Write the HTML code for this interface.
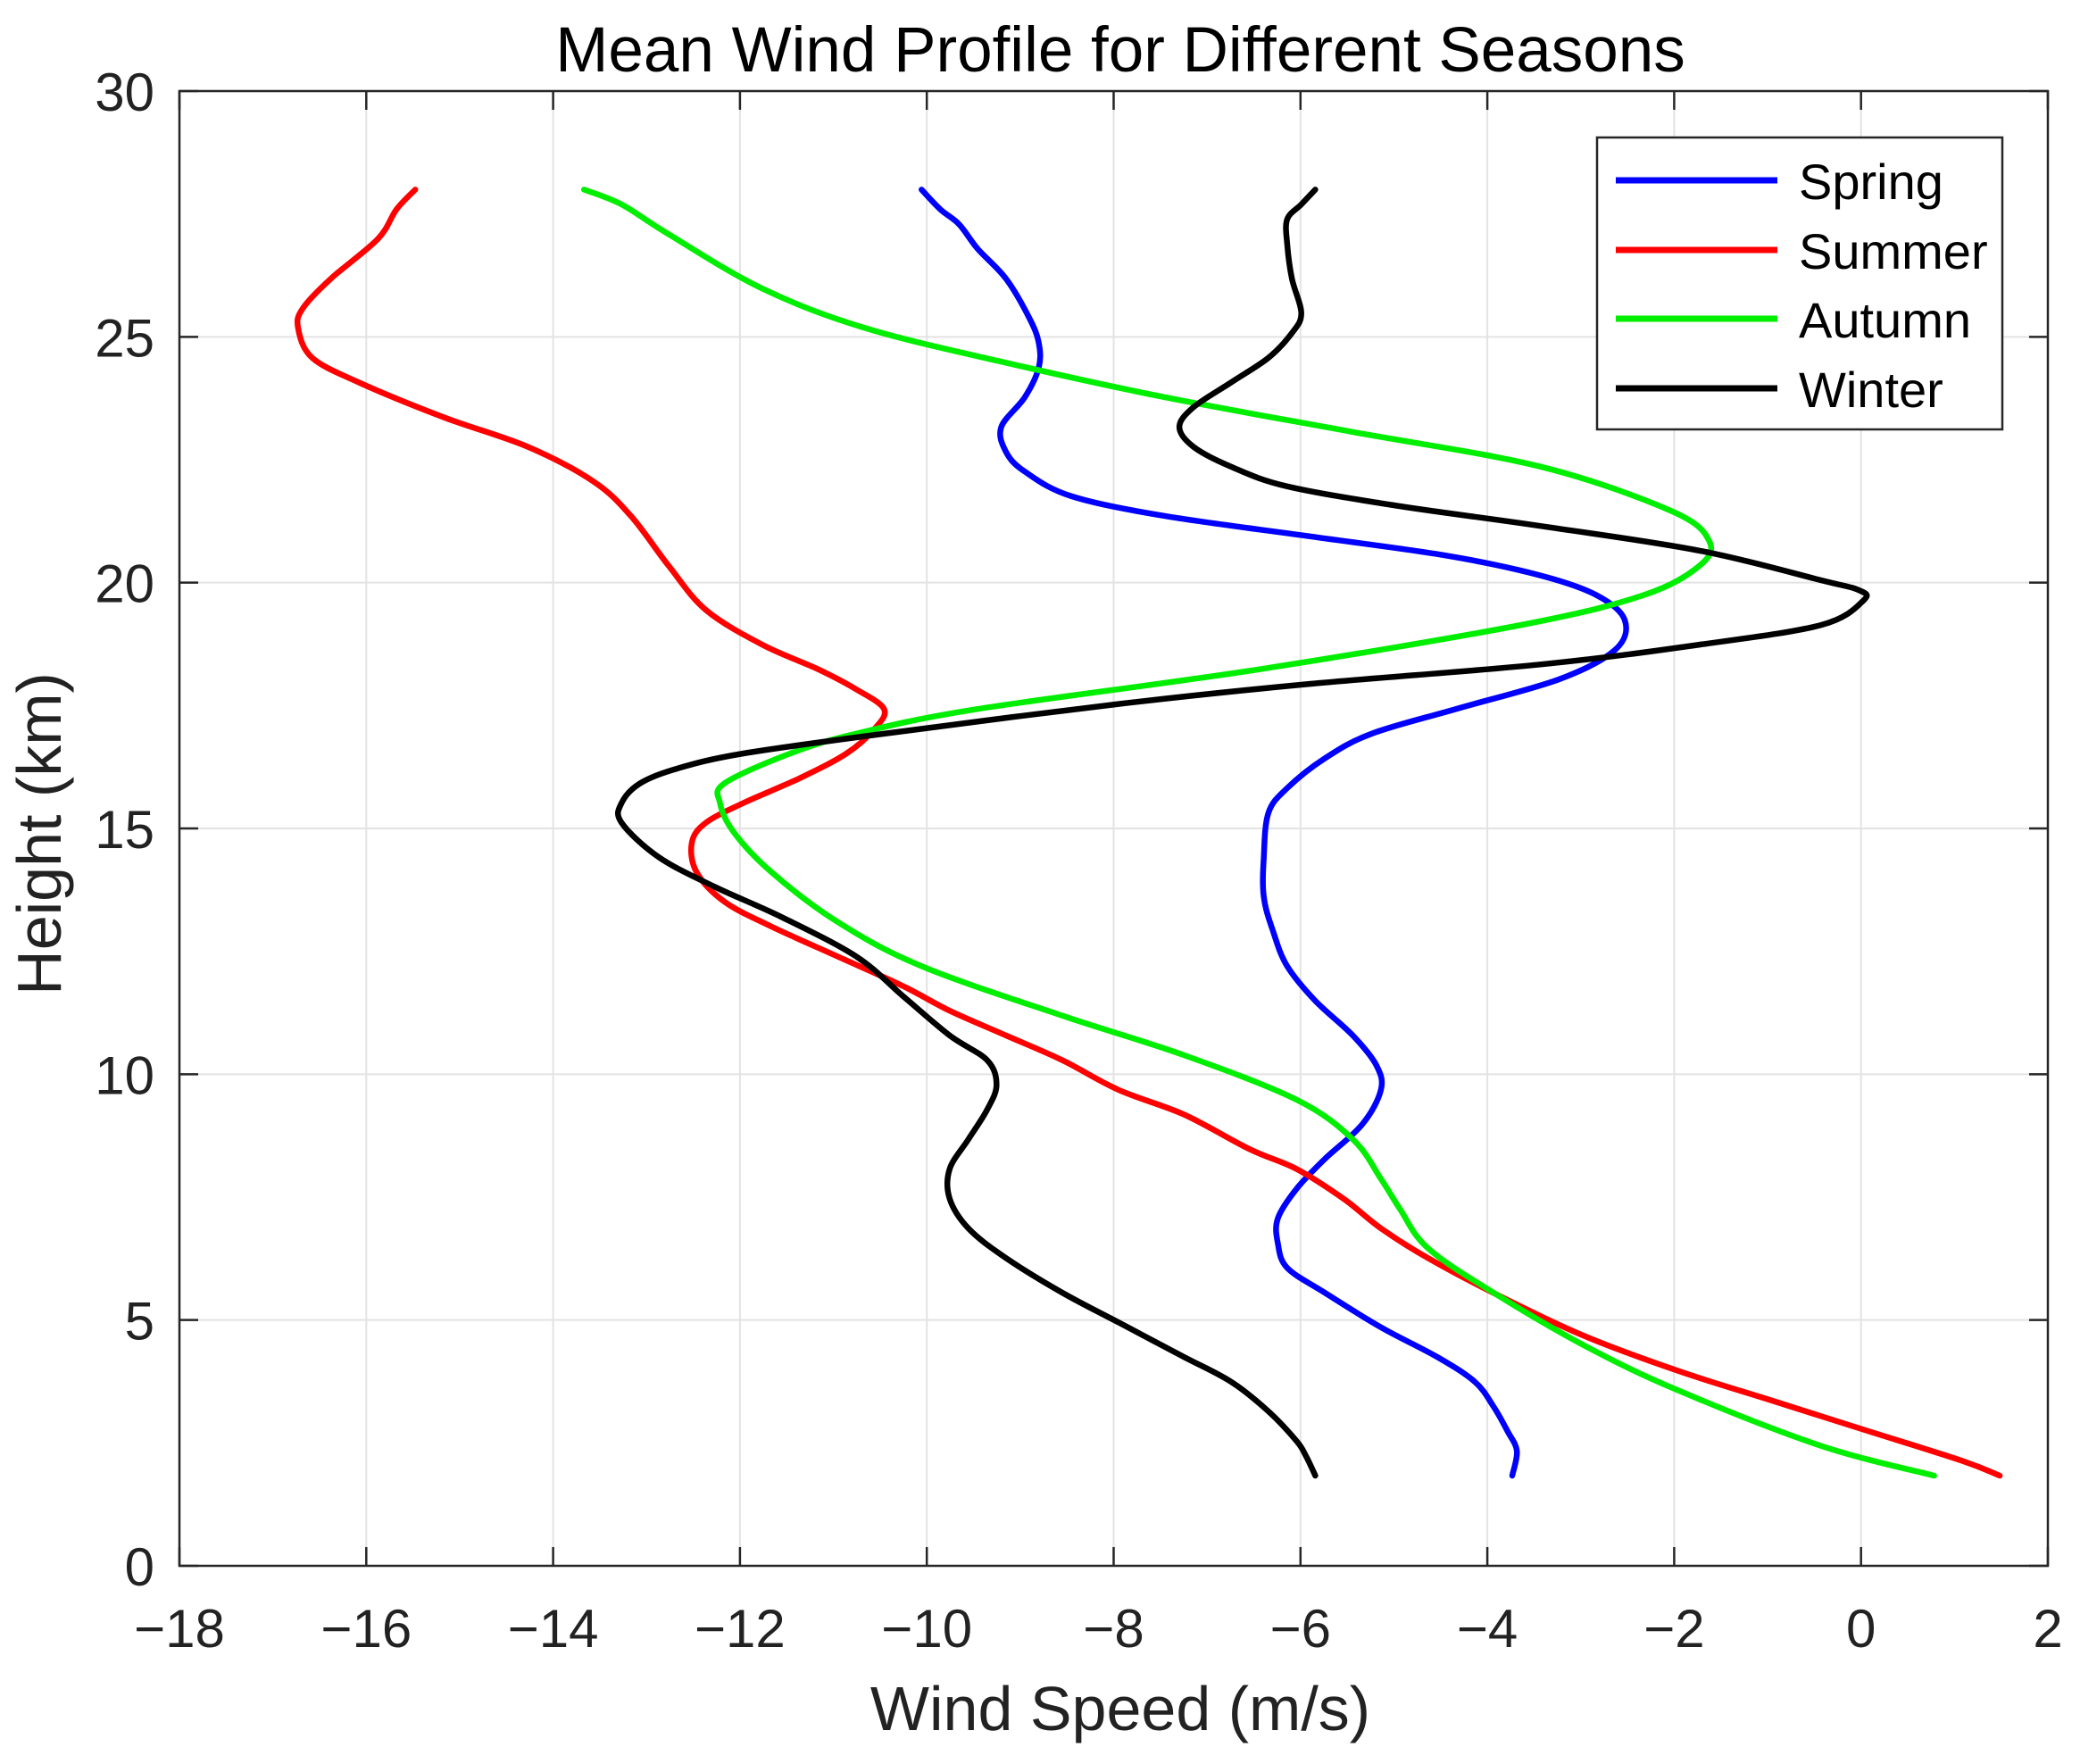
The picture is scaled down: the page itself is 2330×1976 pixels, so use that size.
<!DOCTYPE html>
<html><head><meta charset="utf-8"><style>html,body{margin:0;padding:0;background:#fff}svg{display:block}</style></head>
<body>
<svg id="s" width="2330" height="1976" viewBox="0 0 2330 1976" xmlns="http://www.w3.org/2000/svg" font-family="Liberation Sans, Arial, sans-serif">
<rect width="2330" height="1976" fill="#fff"/>
<g id="grid"></g>
<g id="series" fill="none" stroke-width="6.5" stroke-linejoin="round" stroke-linecap="round"></g>
<rect x="201" y="102" width="2093" height="1652" fill="none" stroke="#262626" stroke-width="2.5"/>
<g id="ticks"></g>
<text x="1255" y="80" font-size="71" text-anchor="middle" fill="#000">Mean Wind Profile for Different Seasons</text>
<text x="1255" y="1938" font-size="70" text-anchor="middle" fill="#222">Wind Speed (m/s)</text>
<text transform="translate(68,934) rotate(-90)" font-size="70" text-anchor="middle" fill="#222">Height (km)</text>
<rect x="1789" y="154" width="454" height="327" fill="#fff" stroke="#262626" stroke-width="2.5"/>
<line x1="1810" y1="202" x2="1991" y2="202" stroke="#0000ff" stroke-width="7"/>
<line x1="1810" y1="280" x2="1991" y2="280" stroke="#ff0000" stroke-width="7"/>
<line x1="1810" y1="357" x2="1991" y2="357" stroke="#00ee00" stroke-width="7"/>
<line x1="1810" y1="435" x2="1991" y2="435" stroke="#000" stroke-width="7"/>
<text x="2015" y="223" font-size="56" fill="#000">Spring</text>
<text x="2015" y="301" font-size="56" fill="#000">Summer</text>
<text x="2015" y="378" font-size="56" fill="#000">Autumn</text>
<text x="2015" y="456" font-size="56" fill="#000">Winter</text>
</svg>
<script>
var NS="http://www.w3.org/2000/svg";
var L=201,R=2294,T=102,B=1754;
function X(w){return L+(w+18)*(R-L)/20}
function Y(h){return B-h*(B-T)/30}
function el(p,t,a,txt){var e=document.createElementNS(NS,t);for(var k in a)e.setAttribute(k,a[k]);if(txt!=null)e.textContent=txt;document.getElementById(p).appendChild(e);}
for(var w=-16;w<=0;w+=2)el("grid","line",{x1:X(w),x2:X(w),y1:T,y2:B,stroke:"#e3e3e3","stroke-width":2});
for(var h=5;h<=25;h+=5)el("grid","line",{x1:L,x2:R,y1:Y(h),y2:Y(h),stroke:"#e3e3e3","stroke-width":2});
for(var w=-18;w<=2;w+=2){var x=X(w);el("ticks","line",{x1:x,x2:x,y1:B,y2:B-21,stroke:"#262626","stroke-width":2.5});el("ticks","line",{x1:x,x2:x,y1:T,y2:T+21,stroke:"#262626","stroke-width":2.5});
el("ticks","text",{x:x,y:1845,"font-size":60,"text-anchor":"middle",fill:"#222"},(w<0?"\u2212"+(-w):""+w));}
for(var h=0;h<=30;h+=5){var y=Y(h);el("ticks","line",{x1:L,x2:L+21,y1:y,y2:y,stroke:"#262626","stroke-width":2.5});el("ticks","line",{x1:R,x2:R-21,y1:y,y2:y,stroke:"#262626","stroke-width":2.5});
el("ticks","text",{x:173,y:y+22,"font-size":60,"text-anchor":"end",fill:"#222"},""+h);}
function fw(w){return (1.1+70.35*(w+18))/70.1-18}
function fh(h){return 1.00624*h-0.179}
var D={
"#0000ff":[[-3.8,2],[-3.75,2.5],[-3.85,2.9],[-4.0,3.4],[-4.2,3.9],[-4.6,4.4],[-5.2,5],[-5.8,5.7],[-6.2,6.2],[-6.3,6.7],[-6.3,7.2],[-6.1,7.8],[-5.8,8.4],[-5.4,9.1],[-5.2,9.8],[-5.25,10.3],[-5.5,10.9],[-5.9,11.6],[-6.2,12.3],[-6.35,13],[-6.45,13.7],[-6.45,14.5],[-6.4,15.4],[-6.2,15.9],[-5.8,16.5],[-5.3,17],[-4.4,17.5],[-3.3,18.1],[-2.7,18.7],[-2.6,19.3],[-2.9,19.8],[-3.5,20.2],[-4.5,20.6],[-6.0,21],[-7.5,21.4],[-8.5,21.8],[-9.0,22.3],[-9.2,22.7],[-9.25,23.2],[-9.0,23.8],[-8.85,24.4],[-8.85,24.9],[-8.95,25.4],[-9.2,26.2],[-9.5,26.8],[-9.7,27.3],[-9.9,27.6],[-10.1,28]],
"#ff0000":[[1.4,2],[1.0,2.3],[0,2.9],[-1,3.5],[-2,4.1],[-3,4.8],[-3.9,5.6],[-4.7,6.4],[-5.2,7.0],[-5.6,7.6],[-6.1,8.2],[-6.6,8.6],[-7.3,9.3],[-8.0,9.8],[-8.6,10.4],[-9.2,10.9],[-9.8,11.4],[-10.3,11.9],[-11.0,12.5],[-11.7,13.1],[-12.2,13.6],[-12.5,14.2],[-12.55,14.8],[-12.4,15.2],[-12.0,15.6],[-11.4,16.1],[-10.9,16.6],[-10.6,17.1],[-10.5,17.5],[-10.8,17.9],[-11.2,18.3],[-11.8,18.8],[-12.4,19.5],[-12.8,20.4],[-13.2,21.4],[-13.6,22.1],[-14.3,22.8],[-15.2,23.4],[-16.1,24.1],[-16.6,24.6],[-16.75,25.2],[-16.7,25.6],[-16.4,26.2],[-15.9,27.0],[-15.7,27.6],[-15.5,28]],
"#00ee00":[[0.7,2],[-0.5,2.6],[-2,3.7],[-3,4.6],[-4,5.7],[-4.7,6.6],[-5.0,7.4],[-5.2,8.0],[-5.5,8.8],[-6.1,9.6],[-7.3,10.5],[-8.6,11.3],[-10.1,12.3],[-11.0,13.2],[-11.7,14.2],[-12.1,15.0],[-12.25,15.6],[-12.2,16.0],[-11.5,16.6],[-10.8,17.0],[-9.5,17.5],[-6.5,18.3],[-3.7,19.2],[-2.4,19.8],[-1.8,20.4],[-1.7,20.9],[-2.1,21.5],[-3.5,22.4],[-5.5,23.1],[-7.5,23.8],[-9.2,24.5],[-10.7,25.2],[-11.8,26.0],[-12.8,27.1],[-13.3,27.7],[-13.7,28]],
"#000000":[[-5.9,2],[-6.0,2.4],[-6.1,2.7],[-6.4,3.3],[-6.8,3.9],[-7.3,4.4],[-8.0,5.1],[-8.6,5.7],[-9.2,6.4],[-9.6,7.0],[-9.8,7.6],[-9.8,8.2],[-9.6,8.8],[-9.4,9.4],[-9.3,9.9],[-9.4,10.4],[-9.8,10.9],[-10.3,11.7],[-10.8,12.5],[-11.6,13.3],[-12.3,13.9],[-12.9,14.5],[-13.3,15.2],[-13.3,15.6],[-13.1,16.0],[-12.7,16.3],[-12.0,16.6],[-10.5,17.0],[-8.0,17.6],[-6.0,18.0],[-3.5,18.4],[-1.8,18.8],[-0.5,19.2],[-0.05,19.7],[-0.1,19.9],[-0.5,20.1],[-1.8,20.7],[-3.5,21.2],[-5.0,21.6],[-6.2,22.0],[-6.8,22.4],[-7.2,22.8],[-7.35,23.2],[-7.2,23.6],[-6.8,24.1],[-6.4,24.6],[-6.15,25.1],[-6.05,25.5],[-6.15,26.2],[-6.2,26.9],[-6.2,27.4],[-6.05,27.7],[-5.9,28]]};
for(var c in D){
 var P=D[c].map(function(q){return [X(fw(q[0])),Y(fh(q[1]))]});
 var d="M"+P[0][0].toFixed(1)+","+P[0][1].toFixed(1);
 for(var i=0;i<P.length-1;i++){
  var p0=P[Math.max(i-1,0)],p1=P[i],p2=P[i+1],p3=P[Math.min(i+2,P.length-1)];
  var c1=[p1[0]+(p2[0]-p0[0])/6,p1[1]+(p2[1]-p0[1])/6],c2=[p2[0]-(p3[0]-p1[0])/6,p2[1]-(p3[1]-p1[1])/6];
  d+=" C"+c1[0].toFixed(1)+","+c1[1].toFixed(1)+" "+c2[0].toFixed(1)+","+c2[1].toFixed(1)+" "+p2[0].toFixed(1)+","+p2[1].toFixed(1);
 }
 el("series","path",{d:d,stroke:c});
}
</script>
</body></html>
